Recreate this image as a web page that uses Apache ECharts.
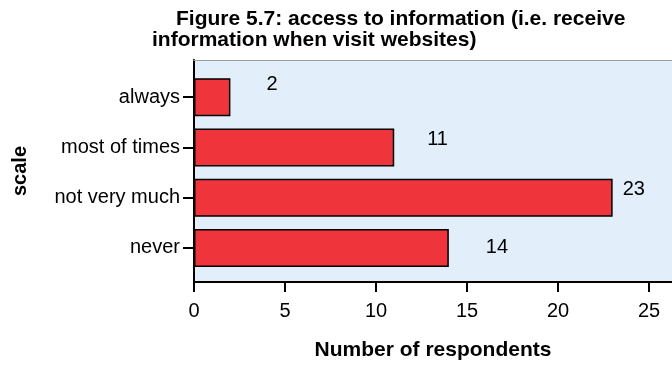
<!DOCTYPE html>
<html>
<head>
<meta charset="utf-8">
<script src="https://cdn.jsdelivr.net/npm/echarts@6/dist/echarts.min.js"></script>
<style>
  html, body { margin: 0; padding: 0; background: #ffffff; }
  #chart { width: 672px; height: 366px; }
</style>
</head>
<body>
<div id="chart"></div>
<script>
// Survey responses: how often respondents receive information when visiting websites
const categories = ['always', 'most of times', 'not very much', 'never'];
const respondents = [2, 11, 23, 14];
const xTicks = [0, 5, 10, 15, 20, 25];

// Per-bar placement of the value labels (horizontal gap, vertical shift)
const labelShift = [[31, -13], [28, -8], [5, -8], [32, 0]];

const X_MAX = 26.26;
const FONT = '"Liberation Sans", Arial, sans-serif';

const chart = echarts.init(document.getElementById('chart'), null, { renderer: 'canvas' });

const barData = respondents.map((v, i) => ({
  value: v,
  label: { offset: labelShift[i] }
}));

chart.setOption({
  animation: false,
  backgroundColor: '#ffffff',
  title: [
    {
      text: 'Figure 5.7: access to information (i.e. receive',
      left: 171, top: 4,
      textStyle: { fontFamily: FONT, fontSize: 21, fontWeight: 'bold', color: '#000' }
    },
    {
      text: 'information when visit websites)',
      left: 147, top: 25,
      textStyle: { fontFamily: FONT, fontSize: 21, fontWeight: 'bold', color: '#000' }
    }
  ],
  grid: [
    // frame / background panel
    { left: 194, top: 60, width: 478, height: 223, show: true,
      backgroundColor: '#e2eefa', borderWidth: 0 },
    // bar area
    { left: 194, top: 72, width: 478, height: 201 }
  ],
  xAxis: [
    {
      gridIndex: 0, type: 'value', min: 0, max: X_MAX, interval: 5,
      position: 'bottom',
      name: 'Number of respondents', nameLocation: 'middle', nameGap: 58,
      nameTextStyle: { fontFamily: FONT, fontSize: 21, fontWeight: 'bold', color: '#000' },
      axisLine: { show: true, lineStyle: { color: '#000', width: 2 } },
      axisTick: { show: true, length: 10, lineStyle: { color: '#000', width: 2 } },
      axisLabel: {
        fontFamily: FONT, fontSize: 20, color: '#000', margin: 19, showMaxLabel: false,
        formatter: v => (xTicks.indexOf(v) >= 0 ? String(v) : '')
      },
      splitLine: { show: false }
    },
    {
      gridIndex: 0, type: 'value', min: 0, max: X_MAX, position: 'top',
      axisLine: { show: true, lineStyle: { color: '#a0a0a0', width: 1 } },
      axisTick: { show: false }, axisLabel: { show: false }, splitLine: { show: false }
    },
    {
      gridIndex: 1, type: 'value', min: 0, max: X_MAX, show: false
    }
  ],
  yAxis: [
    {
      gridIndex: 0, type: 'value', min: 0, max: 1, position: 'left',
      name: 'scale', nameLocation: 'middle', nameGap: 164,
      nameTextStyle: { fontFamily: FONT, fontSize: 20, fontWeight: 'bold', color: '#000' },
      axisLine: { show: true, lineStyle: { color: '#000', width: 2 } },
      axisTick: { show: false }, axisLabel: { show: false }, splitLine: { show: false }
    },
    {
      gridIndex: 1, type: 'category', data: categories, inverse: true,
      axisLine: { show: false },
      axisTick: { show: true, alignWithLabel: true, length: 11,
                  lineStyle: { color: '#000', width: 2 } },
      axisLabel: { fontFamily: FONT, fontSize: 20, color: '#000', margin: 14 }
    }
  ],
  series: [
    {
      type: 'bar',
      xAxisIndex: 2, yAxisIndex: 1,
      data: barData,
      barWidth: 38,
      itemStyle: { color: '#f0343c', borderColor: '#000', borderWidth: 1.5 },
      label: {
        show: true, position: 'right', distance: 5,
        fontFamily: FONT, fontSize: 20, color: '#000'
      }
    }
  ]
});
</script>
</body>
</html>
